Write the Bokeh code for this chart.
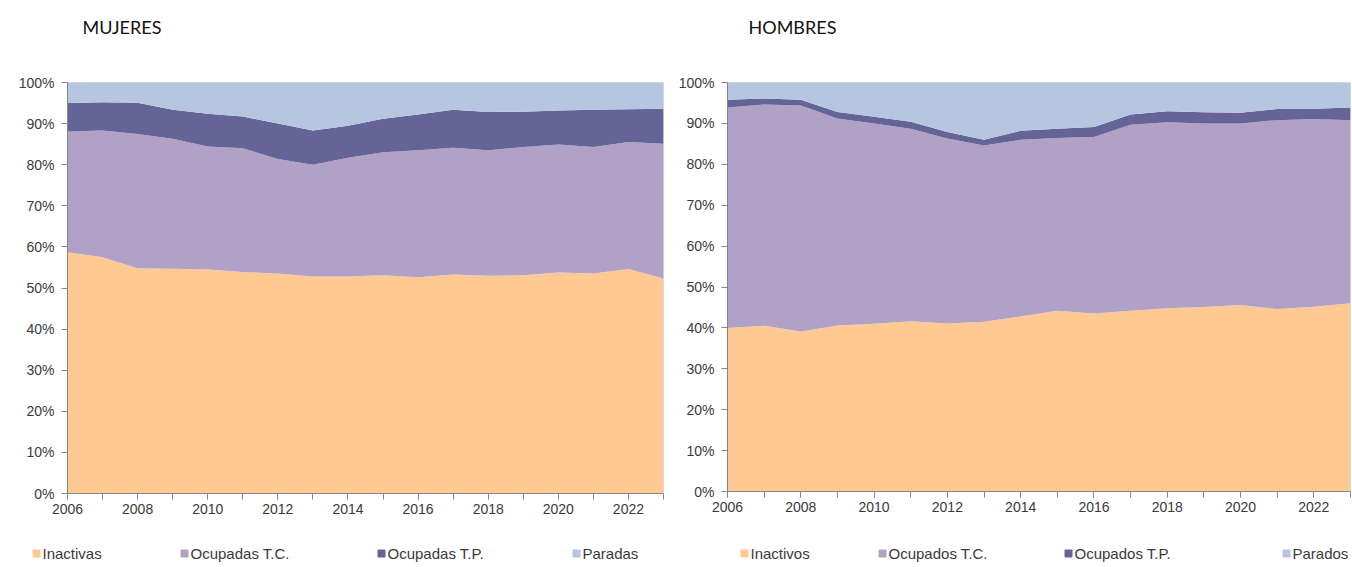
from bokeh.plotting import figure
from bokeh.layouts import row, column
from bokeh.models import (ColumnDataSource, FixedTicker, PrintfTickFormatter,
                          Range1d, Title)
from bokeh.core.properties import value
from bokeh.embed import file_html
from bokeh.resources import INLINE

years = list(range(2006, 2024))

# MUJERES (% of population)
muj_inactivas = [58.7, 57.5, 54.8, 54.7, 54.5, 53.9, 53.5, 52.8, 52.8, 53.1, 52.6, 53.3, 53.0, 53.1, 53.8, 53.5, 54.6, 52.3]
muj_ocup_tc = [29.4, 30.8, 32.7, 31.6, 29.9, 30.1, 27.9, 27.2, 28.9, 29.9, 30.9, 30.8, 30.5, 31.2, 31.1, 30.8, 30.9, 32.8]
muj_ocup_tp = [6.9, 6.9, 7.6, 7.1, 8.0, 7.7, 8.6, 8.3, 7.8, 8.2, 8.7, 9.3, 9.3, 8.6, 8.3, 9.1, 8.0, 8.5]
muj_paradas = [5.0, 4.8, 4.9, 6.6, 7.6, 8.3, 10.0, 11.7, 10.5, 8.8, 7.8, 6.6, 7.2, 7.1, 6.8, 6.6, 6.5, 6.4]

# HOMBRES (% of population)
hom_inactivos = [40.0, 40.5, 39.1, 40.6, 41.0, 41.6, 41.1, 41.5, 42.8, 44.2, 43.5, 44.2, 44.8, 45.1, 45.6, 44.6, 45.2, 46.0]
hom_ocup_tc = [53.9, 54.1, 55.3, 50.6, 49.0, 47.1, 45.2, 43.1, 43.2, 42.2, 43.2, 45.5, 45.5, 44.9, 44.4, 46.2, 45.9, 44.8]
hom_ocup_tp = [1.9, 1.5, 1.4, 1.6, 1.6, 1.7, 1.6, 1.4, 2.2, 2.3, 2.4, 2.5, 2.7, 2.7, 2.6, 2.7, 2.5, 3.1]
hom_parados = [4.2, 3.9, 4.2, 7.2, 8.4, 9.6, 12.1, 14.0, 11.8, 11.3, 10.9, 7.8, 7.0, 7.3, 7.4, 6.5, 6.4, 6.1]

muj_labels = ["Inactivas", "Ocupadas T.C.", "Ocupadas T.P.", "Paradas"]
hom_labels = ["Inactivos", "Ocupados T.C.", "Ocupados T.P.", "Parados"]
year_ticks = list(range(2006, 2024, 2))
pct_ticks = list(range(0, 101, 10))

colors = ["#FFC994", "#B2A1C7", "#646497", "#B6C6E0"]
AXIS_COLOR = "#868686"
TEXT_COLOR = "#3a3a3a"

# legend layout (pixel offsets of each entry inside its legend strip)
LEG_H = 40
muj_leg_x = [36, 184, 381, 576]
hom_leg_x = [72, 210, 396, 614]


def make_chart(title, title_offset, series, frame_w, frame_h, b_left, b_right, b_bottom):
    keys = ["s0", "s1", "s2", "s3"]
    data = {"year": years}
    for k, s in zip(keys, series):
        data[k] = s
    src = ColumnDataSource(data)

    p = figure(frame_width=frame_w, frame_height=frame_h, title=None,
               x_range=Range1d(years[0], years[-1]), y_range=Range1d(0, 100),
               output_backend="svg", toolbar_location=None,
               min_border_left=b_left, min_border_right=b_right,
               min_border_top=82, min_border_bottom=b_bottom,
               background_fill_color="white", border_fill_color="white")
    p.outline_line_color = "#dddddd"
    p.grid.visible = False

    # spacer between frame and title, then the title itself (farther from frame)
    p.add_layout(Title(text=" ", text_font_size="1px", standoff=42), "above")
    p.add_layout(Title(text=title, align="left", offset=title_offset, standoff=0,
                       vertical_align="bottom", text_font="Lato",
                       text_font_size="18px", text_font_style="normal",
                       text_color="#111111"), "above")

    p.varea_stack(keys, x="year", source=src, color=colors)

    p.xaxis.ticker = FixedTicker(ticks=year_ticks, minor_ticks=years)
    p.yaxis.ticker = FixedTicker(ticks=pct_ticks, minor_ticks=[])
    p.yaxis.formatter = PrintfTickFormatter(format="%d%%")
    for ax in (p.xaxis[0], p.yaxis[0]):
        ax.axis_line_color = AXIS_COLOR
        ax.major_tick_line_color = AXIS_COLOR
        ax.minor_tick_line_color = AXIS_COLOR
        ax.major_tick_in = 0
        ax.major_tick_out = 6
        ax.minor_tick_in = 0
        ax.minor_tick_out = 6
        ax.major_label_text_font = "Liberation Sans"
        ax.major_label_text_font_size = "14px"
        ax.major_label_text_color = TEXT_COLOR
    p.yaxis.major_label_standoff = 7
    p.xaxis.major_label_standoff = 4
    return p


def make_legend(width, labels, xs):
    lp = figure(width=width, height=LEG_H, x_range=Range1d(0, width),
                y_range=Range1d(0, LEG_H), x_axis_type=None, y_axis_type=None,
                output_backend="svg", toolbar_location=None, min_border=0,
                background_fill_color="white", border_fill_color="white")
    lp.outline_line_color = None
    lp.grid.visible = False
    src = ColumnDataSource(dict(x=xs, tx=[x + 6 for x in xs], y=[14] * len(xs),
                                label=labels, color=colors))
    lp.scatter("x", "y", source=src, marker="square", size=7, color="color")
    lp.text("tx", "y", text="label", source=src, text_font=value("Liberation Sans"),
            text_font_size="15px", text_color=TEXT_COLOR, text_baseline="middle")
    return lp


p1 = make_chart("MUJERES", 15, [muj_inactivas, muj_ocup_tc, muj_ocup_tp, muj_paradas],
                frame_w=596, frame_h=411, b_left=67, b_right=9, b_bottom=34)
p2 = make_chart("HOMBRES", 21, [hom_inactivos, hom_ocup_tc, hom_ocup_tp, hom_parados],
                frame_w=623, frame_h=409, b_left=55, b_right=2, b_bottom=36)
l1 = make_legend(672, muj_labels, muj_leg_x)
l2 = make_legend(680, hom_labels, hom_leg_x)

layout = column(row(p1, p2), row(l1, l2))
open("out.html", "w").write(file_html(layout, INLINE))
